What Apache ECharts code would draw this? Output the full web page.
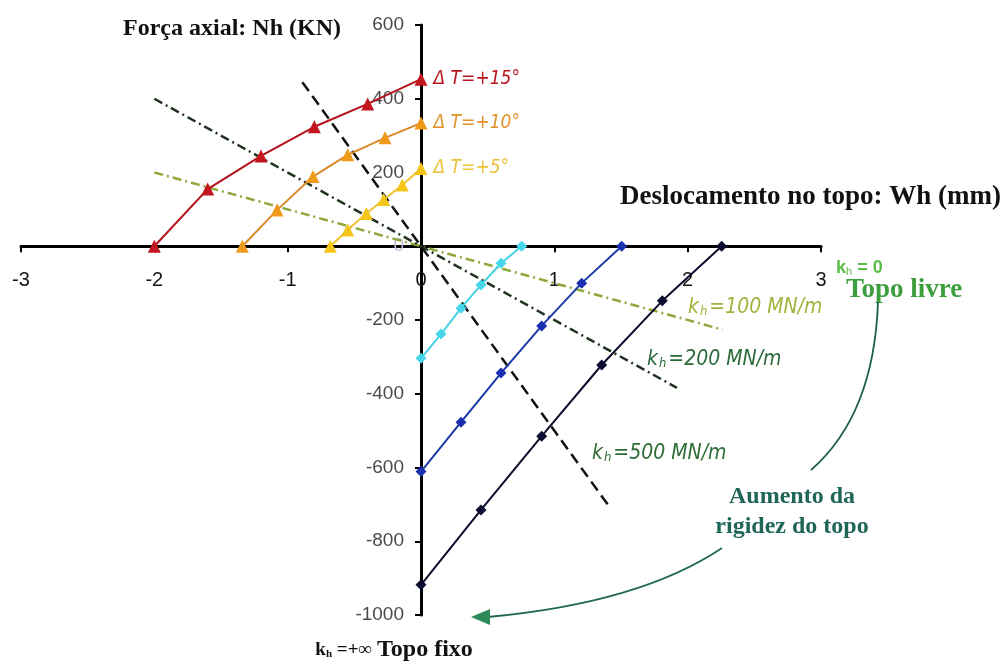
<!DOCTYPE html>
<html>
<head>
<meta charset="utf-8">
<script src="https://cdn.jsdelivr.net/npm/echarts@6/dist/echarts.min.js"></script>
<style>
  html, body { margin: 0; padding: 0; background: #ffffff; }
  #chart { width: 1003px; height: 664px; }
</style>
</head>
<body>
<div id="chart"></div>
<script>
// Axial force at the pile top Nh (kN) against top displacement Wh (mm)

const xTicks = [-3, -2, -1, 0, 1, 2, 3];
const yTicks = [600, 400, 200, 0, -200, -400, -600, -800, -1000];

// Heating branches (ΔT = +15, +10, +5)
const dT15X = [-2.0, -1.6, -1.2, -0.8, -0.4, 0];
const dT15Y = [0, 155, 245, 324, 386, 453];
const dT10X = [-1.34, -1.08, -0.81, -0.55, -0.27, 0];
const dT10Y = [0, 98, 189, 248, 294, 334];
const dT5X = [-0.68, -0.55, -0.41, -0.28, -0.14, 0];
const dT5Y = [0, 44, 89, 127, 166, 211];
const dTNames = ['Δ T=+15°', 'Δ T=+10°', 'Δ T=+5°'];

// Cooling branches
const cool1X = [0, 0.15, 0.30, 0.45, 0.60, 0.755];
const cool1Y = [-304, -238, -168, -105, -46, 0];
const cool2X = [0, 0.30, 0.60, 0.905, 1.205, 1.505];
const cool2Y = [-611, -477, -344, -216, -100, 0];
const cool3X = [0, 0.45, 0.905, 1.355, 1.81, 2.255];
const cool3Y = [-918, -715, -515, -322, -148, 0];

// Top spring lines, N = -kh * W
const kh100X = [-2.0, 2.26];
const kh100Y = [200, -226];
const kh200X = [-2.0, 1.92];
const kh200Y = [400, -384];
const kh500X = [-0.89, 1.40];
const kh500Y = [445, -700];

const SERIF = "'Liberation Serif','Times New Roman',serif";
const SANS = "'Liberation Sans',Arial,sans-serif";
const NARROW = "'Liberation Sans Narrow','Arial Narrow','DejaVu Sans Condensed','Liberation Sans',sans-serif";

// plot box
const GRID = { left: 21, top: 25, width: 800, height: 590 };
const xMin = xTicks[0], xMax = xTicks[xTicks.length - 1];
const yMin = yTicks[yTicks.length - 1], yMax = yTicks[0];
// shift both axes so that they cross at the origin
const xAxisOffset = -((0 - yMin) / (yMax - yMin)) * GRID.height;
const yAxisOffset = -((0 - xMin) / (xMax - xMin)) * GRID.width;

function pts(xs, ys) { return xs.map((x, i) => [x, ys[i]]); }

function heatSeries(xs, ys, name, lineColor, markColor, labelColor) {
  const data = pts(xs, ys).map((p, i, arr) => i === arr.length - 1 ? {
    value: p,
    label: {
      show: true, position: 'right', distance: 6, formatter: name,
      color: labelColor, fontSize: 19, fontStyle: 'italic', fontFamily: NARROW
    }
  } : p);
  return {
    type: 'line', name, data, z: 5,
    symbol: 'triangle', symbolSize: 13, showAllSymbol: true,
    lineStyle: { color: lineColor, width: 2 },
    itemStyle: { color: markColor },
    label: { show: false }
  };
}

function coolSeries(xs, ys, lineColor, markColor) {
  return {
    type: 'line', data: pts(xs, ys), z: 5,
    symbol: 'diamond', symbolSize: 11, showAllSymbol: true,
    lineStyle: { color: lineColor, width: 2 },
    itemStyle: { color: markColor }
  };
}

function springSeries(xs, ys, color, dash, width) {
  return {
    type: 'line', data: pts(xs, ys), z: 3, symbol: 'none',
    lineStyle: { color, width, type: dash }
  };
}

function khText(value, color, size) {
  return {
    text: '{k|k}{h|h}{t|' + value + '}',
    verticalAlign: 'middle',
    rich: {
      k: { fontSize: size, fontStyle: 'italic', fontFamily: NARROW, fill: color },
      h: { fontSize: Math.round(size * 0.6), fontStyle: 'italic', fontFamily: NARROW, fill: color, verticalAlign: 'bottom', padding: [0, 2, 0, 1] },
      t: { fontSize: size, fontStyle: 'italic', fontFamily: NARROW, fill: color }
    }
  };
}

const chart = echarts.init(document.getElementById('chart'), null, { renderer: 'canvas' });

const option = {
  backgroundColor: '#ffffff',
  animation: false,
  grid: {
    left: GRID.left, top: GRID.top, width: GRID.width, height: GRID.height,
    containLabel: false, outerBoundsMode: 'none'
  },
  xAxis: {
    type: 'value', position: 'bottom', offset: xAxisOffset,
    min: xMin, max: xMax, interval: 1,
    axisLine: { onZero: false, lineStyle: { color: '#000', width: 3 } },
    axisTick: { show: true, length: 6, lineStyle: { color: '#000', width: 2 } },
    axisLabel: { margin: 24, fontSize: 20, color: '#151515', fontFamily: SANS, formatter: (v) => String(v) },
    splitLine: { show: false }
  },
  yAxis: {
    type: 'value', position: 'left', offset: yAxisOffset,
    min: yMin, max: yMax, interval: 200,
    axisLine: { onZero: false, lineStyle: { color: '#000', width: 3 } },
    axisTick: { show: true, length: 6, lineStyle: { color: '#000', width: 2 } },
    axisLabel: {
      margin: 17, fontSize: 19, fontFamily: SANS,
      formatter: (v) => String(v),
      color: (v) => (Number(v) === 0 ? '#bdb6d4' : '#4a4a4a')
    },
    splitLine: { show: false }
  },
  series: [
    springSeries(kh100X, kh100Y, '#8fa83c', [9, 4, 2, 4], 2.5),
    springSeries(kh200X, kh200Y, '#1f3320', [9, 4, 2, 4], 2.5),
    springSeries(kh500X, kh500Y, '#111111', [11, 6], 2.5),
    heatSeries(dT15X, dT15Y, dTNames[0], '#b3121c', '#c3161e', '#b8161e'),
    heatSeries(dT10X, dT10Y, dTNames[1], '#d98a28', '#f09a1c', '#e0922a'),
    heatSeries(dT5X, dT5Y, dTNames[2], '#f0c232', '#f5c51a', '#ebc23a'),
    coolSeries(cool1X, cool1Y, '#45d2e4', '#46d6ea'),
    coolSeries(cool2X, cool2Y, '#1a3aa8', '#1b2fb2'),
    coolSeries(cool3X, cool3Y, '#0b0b2a', '#0c0c30')
  ],
  graphic: [
    { type: 'text', x: 123, y: 29, style: { text: 'Força axial: Nh (KN)', font: 'bold 24px ' + SERIF, fill: '#111', verticalAlign: 'middle' } },
    { type: 'text', x: 620, y: 197, style: { text: 'Deslocamento no topo: Wh (mm)', font: 'bold 27px ' + SERIF, fill: '#111', verticalAlign: 'middle' } },
    { type: 'text', x: 836, y: 268, style: {
        text: '{k|k}{h|h}{t| = 0}', verticalAlign: 'middle',
        rich: {
          k: { fontSize: 18, fontFamily: SANS, fontWeight: 'bold', fill: '#5cbc4a' },
          h: { fontSize: 11, fontFamily: SANS, fill: '#5cbc4a', verticalAlign: 'bottom' },
          t: { fontSize: 18, fontFamily: SANS, fontWeight: 'bold', fill: '#5cbc4a' }
        } } },
    { type: 'text', x: 846, y: 290, style: { text: 'Topo livre', font: 'bold 27px ' + SERIF, fill: '#3c9e3c', verticalAlign: 'middle' } },
    { type: 'text', x: 688, y: 308, style: khText('=100 MN/m', '#a3b23a', 21) },
    { type: 'text', x: 647, y: 360, style: khText('=200 MN/m', '#2b6a3a', 21) },
    { type: 'text', x: 592, y: 454, style: khText('=500 MN/m', '#2f6b35', 21) },
    { type: 'text', x: 792, y: 512, style: { text: 'Aumento da\nrigidez do topo', font: 'bold 24px ' + SERIF, fill: '#1f6659', align: 'center', verticalAlign: 'middle', lineHeight: 30 } },
    { type: 'text', x: 372, y: 650, style: {
        text: '{k|k}{h|h}{t| =+∞}', align: 'right', verticalAlign: 'middle',
        rich: {
          k: { fontSize: 19, fontFamily: SERIF, fontWeight: 'bold', fill: '#111' },
          h: { fontSize: 11, fontFamily: SERIF, fontWeight: 'bold', fill: '#111', verticalAlign: 'bottom' },
          t: { fontSize: 19, fontFamily: SERIF, fontWeight: 'bold', fill: '#111' }
        } } },
    { type: 'text', x: 377, y: 650, style: { text: 'Topo fixo', font: 'bold 24px ' + SERIF, fill: '#111', verticalAlign: 'middle' } },
    // curved arrow from free top towards fixed top
    { type: 'bezierCurve', shape: { x1: 878, y1: 302, cpx1: 874, cpy1: 415, x2: 811, y2: 470 },
      style: { stroke: '#1f5f4a', lineWidth: 1.8, fill: null } },
    { type: 'bezierCurve', shape: { x1: 722, y1: 548, cpx1: 640, cpy1: 603, x2: 488, y2: 617 },
      style: { stroke: '#1f6a4a', lineWidth: 1.8, fill: null } },
    { type: 'polygon', shape: { points: [[471, 617], [490, 609], [490, 625]] },
      style: { fill: '#2e8b57' } }
  ]
};

chart.setOption(option);
</script>
</body>
</html>
